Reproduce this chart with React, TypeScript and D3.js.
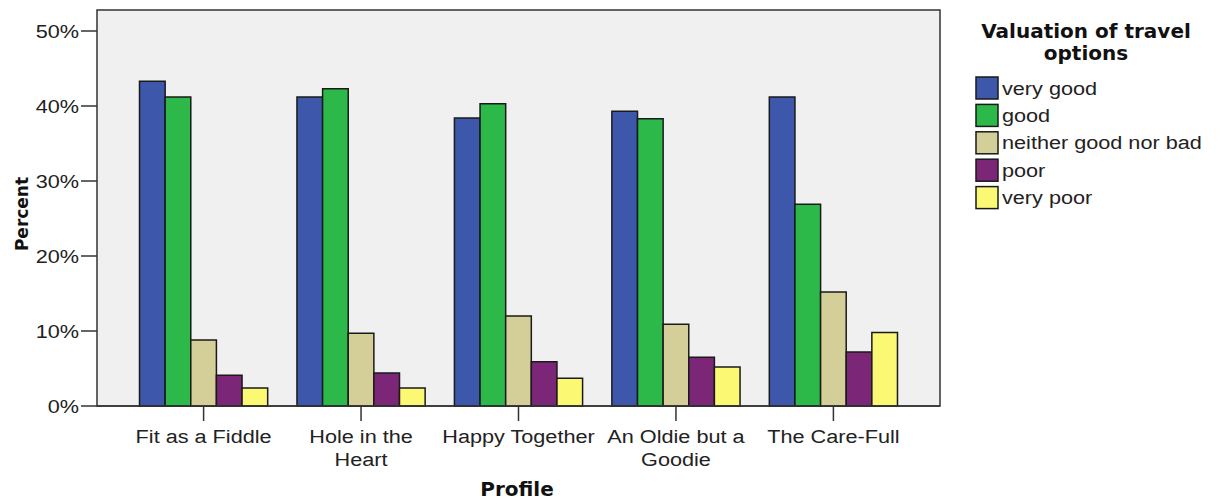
import React from "react";
import * as d3 from "d3";

const categories = [
  ["Fit as a Fiddle"],
  ["Hole in the", "Heart"],
  ["Happy Together"],
  ["An Oldie but a", "Goodie"],
  ["The Care-Full"],
];
const seriesNames = ["very good", "good", "neither good nor bad", "poor", "very poor"];
const seriesColors = ["#3d57aa", "#2db84a", "#d4ce98", "#7c2678", "#fbf874"];
const veryGood = [43.3, 41.2, 38.4, 39.3, 41.2];
const good = [41.2, 42.3, 40.3, 38.3, 26.9];
const neither = [8.8, 9.7, 12.0, 10.9, 15.2];
const poor = [4.1, 4.4, 5.9, 6.5, 7.2];
const veryPoor = [2.4, 2.4, 3.7, 5.2, 9.8];
const yTicks = [0, 10, 20, 30, 40, 50];

const series = [veryGood, good, neither, poor, veryPoor];

const SX = 1.14;

function T({ x, y, anchor = "start", children, dy }: any) {
  return (
    <g transform={`translate(${x},${y}) scale(${SX},1)`}>
      <text x={0} y={0} dy={dy} textAnchor={anchor} fontSize={19} fill="#222"
        fontFamily="'Liberation Sans', Arial, sans-serif">{children}</text>
    </g>
  );
}

export default function App() {
  const W = 1217, H = 500;
  const left = 97, right = 940, top = 10, bottom = 406;
  const boldFont = "'DejaVu Sans', sans-serif";
  const y = d3.scaleLinear().domain([0, 52.8]).range([bottom, top]);
  const keys = categories.map((c) => c.join(" "));
  const x = d3.scaleBand().domain(keys).range([left, right]).paddingInner(0.186).paddingOuter(0.27);
  const x1 = d3.scaleBand().domain(seriesNames).range([0, x.bandwidth()]);

  return (
    <svg width={W} height={H} style={{ position: "absolute", left: 0, top: 0, background: "#fff" }}>
      <rect x={left} y={top} width={right - left} height={bottom - top} fill="#f0f0f0" stroke="#333" strokeWidth={1.5} />
      {categories.map((c, ci) => (
        <g key={ci}>
          {series.map((s, si) => (
            <rect
              key={si}
              x={(x(keys[ci]) as number) + (x1(seriesNames[si]) as number)}
              y={y(s[ci])}
              width={x1.bandwidth()}
              height={bottom - y(s[ci])}
              fill={seriesColors[si]}
              stroke="#1a1a1a"
              strokeWidth={1.5}
            />
          ))}
        </g>
      ))}
      <line x1={left} x2={right} y1={bottom} y2={bottom} stroke="#333" strokeWidth={1.5} />
      {yTicks.map((t) => (
        <g key={t}>
          <line x1={81} x2={left} y1={y(t)} y2={y(t)} stroke="#333" strokeWidth={1.5} />
          <T x={79} y={y(t)} dy="0.35em" anchor="end">{t + "%"}</T>
        </g>
      ))}
      {categories.map((c, ci) => {
        const cx = (x(keys[ci]) as number) + x.bandwidth() / 2;
        return (
          <g key={ci}>
            <line x1={cx} x2={cx} y1={bottom} y2={bottom + 15} stroke="#333" strokeWidth={1.5} />
            {c.map((line, li) => (
              <T key={li} x={cx} y={443 + li * 23} anchor="middle">{line}</T>
            ))}
          </g>
        );
      })}
      <text x={517} y={496} textAnchor="middle" fontSize={20} fontWeight="bold" fill="#111" fontFamily={boldFont}>Profile</text>
      <text transform={`translate(28,${214}) rotate(-90)`} textAnchor="middle" fontSize={17} fontWeight="bold" fill="#111" fontFamily={boldFont}>Percent</text>
      <text x={1086} y={38} textAnchor="middle" fontSize={20} fontWeight="bold" fill="#111" fontFamily={boldFont}>Valuation of travel</text>
      <text x={1086} y={60} textAnchor="middle" fontSize={20} fontWeight="bold" fill="#111" fontFamily={boldFont}>options</text>
      {seriesNames.map((n, i) => (
        <g key={n}>
          <rect x={976} y={77 + i * 27.4} width={22} height={22} fill={seriesColors[i]} stroke="#1a1a1a" strokeWidth={1.5} />
          <T x={1002} y={88 + i * 27.4} dy="0.35em">{n}</T>
        </g>
      ))}
    </svg>
  );
}
